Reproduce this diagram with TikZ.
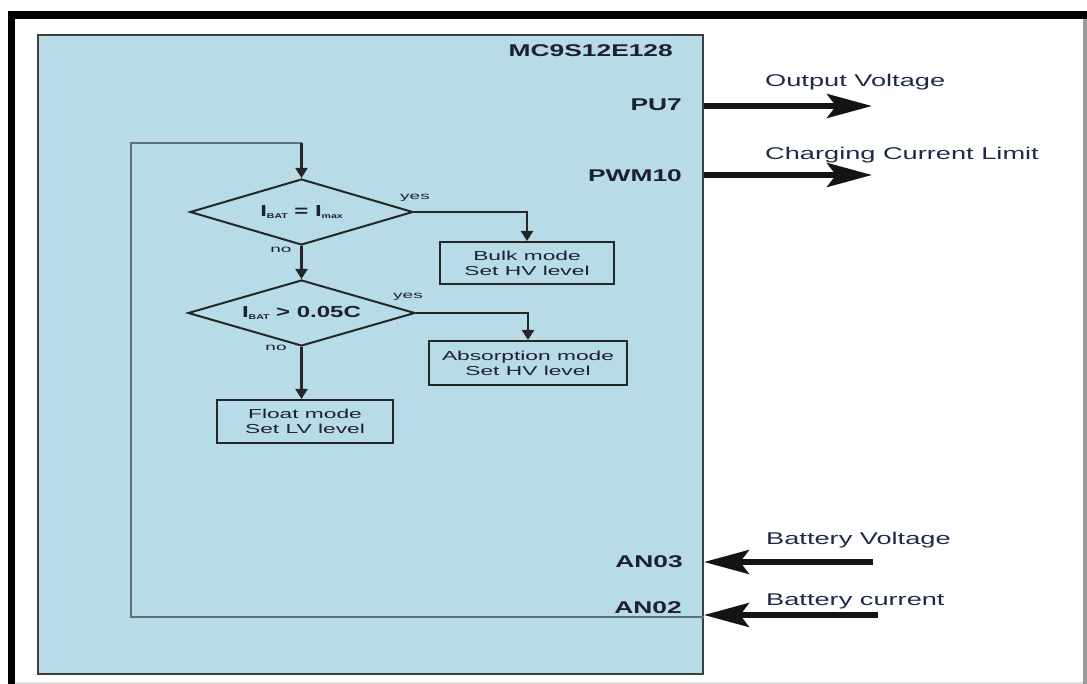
\documentclass[tikz,border=0pt]{standalone}
\usepackage{fontspec}
\setmainfont{Liberation Sans}
\newfontfamily\pinfont[FakeStretch=1.55]{Liberation Sans}
\newfontfamily\sigfont[FakeStretch=1.6]{Liberation Sans}
\newfontfamily\boxfont[FakeStretch=1.75]{Liberation Sans}
\newfontfamily\condfont[FakeStretch=1.5]{Liberation Sans}
\newfontfamily\ynfont[FakeStretch=1.9]{Liberation Sans}
\usetikzlibrary{shapes.geometric,arrows.meta}
\definecolor{mcublue}{HTML}{B8DCE7}
\definecolor{mcuedge}{HTML}{3C3F42}
\definecolor{flow}{HTML}{262626}
\definecolor{fbgray}{HTML}{5F7278}
\definecolor{txt}{HTML}{1C2030}
\definecolor{sigtxt}{HTML}{1F2A48}
\newcommand{\subtxt}[1]{\raisebox{-2.5pt}{\fontsize{7}{7}\selectfont #1}}
\begin{document}
\begin{tikzpicture}[x=1pt,y=-1pt,
  mcu/.style={draw=mcuedge, fill=mcublue, line width=2pt, inner sep=0pt,
              minimum width=665pt, minimum height=639pt},
  pinlbl/.style={font=\pinfont\bfseries\fontsize{17}{20}\selectfont, text=txt, inner sep=0pt},
  siglbl/.style={font=\sigfont\fontsize{17}{20}\selectfont, text=sigtxt, inner sep=0pt},
  fbox/.style={draw=flow, line width=2pt, align=center, inner sep=0pt,
               font=\boxfont\fontsize{13}{15}\selectfont, text=txt},
  dia/.style={diamond, aspect=3.4, draw=flow, line width=2pt, inner sep=0pt, minimum height=66pt,
              font=\condfont\bfseries\fontsize{16}{18}\selectfont, text=txt},
  yn/.style={font=\ynfont\fontsize{10}{12}\selectfont, text=txt, inner sep=0pt},
  flowarrow/.style={draw=flow, line width=2.2pt, -{Triangle[length=10pt,width=12pt]}},
  bigarrow/.style={draw=black!92, line width=5.5pt, -{Stealth[length=45pt,width=24pt,inset=9pt]}},
  fbline/.style={draw=fbgray, line width=2.2pt}
]
\useasboundingbox (0,0) rectangle (1087,684);
% outer frame
\fill[black] (8,11) rectangle (1087,19);
\fill[black] (8,11) rectangle (15,684);
\fill[black!40] (1083,19) rectangle (1087,684);
\fill[black!12] (15,682) rectangle (1083,684);

% MCU block
\node[mcu] (mcu) at (370.5,354.5) {};
\node[pinlbl, anchor=base east] (chip) at (673,57) {MC9S12E128};
\node[pinlbl, anchor=base east] (pu7) at (682,111) {PU7};
\node[pinlbl, anchor=base east] (pwm) at (682,182) {PWM10};
\node[pinlbl, anchor=base east] (an03) at (683,567) {AN03};
\node[pinlbl, anchor=base east] (an02) at (682,613) {AN02};

% signals
\coordinate (pu7o) at (872,106);
\coordinate (pwmo) at (872,175);
\coordinate (an03i) at (873,562);
\coordinate (an02i) at (878,615);
\draw[bigarrow] (mcu.east |- pu7o) -- (pu7o);
\draw[bigarrow] (mcu.east |- pwmo) -- (pwmo);
\draw[bigarrow] (an03i) -- (mcu.east |- an03i);
\draw[bigarrow] (an02i) -- (mcu.east |- an02i);
\node[siglbl, anchor=base west] (sov) at (765,87) {Output Voltage};
\node[siglbl, anchor=base west] (scl) at (765,160) {Charging Current Limit};
\node[siglbl, anchor=base west] (sbv) at (766,544) {Battery Voltage};
\node[siglbl, anchor=base west] (sbc) at (766,605) {Battery current};

% flowchart
\node[dia, minimum width=223pt] (d1) at (301.5,212) {I\subtxt{BAT} = I\subtxt{max}};
\node[dia, minimum width=227pt] (d2) at (301.5,313) {I\subtxt{BAT} > 0.05C};
\node[fbox, minimum width=174pt, minimum height=42pt] (bulk) at (527,263) {Bulk mode\\Set HV level};
\node[fbox, minimum width=198pt, minimum height=44pt] (absm) at (528,363) {Absorption mode\\Set HV level};
\node[fbox, minimum width=176pt, minimum height=43pt] (flt) at (305,421.5) {Float mode\\Set LV level};

\node[yn] (y1) at (415,198) {yes};
\node[yn] (n1) at (281,250) {no};
\node[yn] (y2) at (408,297) {yes};
\node[yn] (n2) at (276,348) {no};

\draw[flowarrow] (d1.east) -| (bulk.north);
\draw[flowarrow] (d1.south) -- (d2.north);
\draw[flowarrow] (d2.east) -| (absm.north);
\draw[flowarrow] (d2.south) -- (d2.south |- flt.north);

% feedback loop
\coordinate (fbl) at (131,617);
\coordinate (fbt) at (131,143);
\draw[fbline] (mcu.east |- fbl) -- (fbl) -- (fbt) -- (d1.north |- fbt);
\draw[flowarrow] (d1.north |- fbt) -- (d1.north);
\end{tikzpicture}
\end{document}
